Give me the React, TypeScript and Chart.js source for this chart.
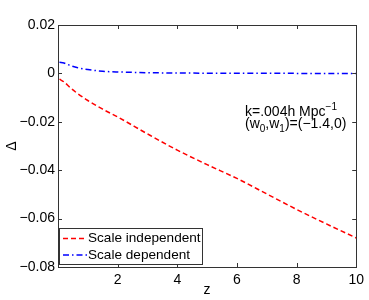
import React, { useEffect, useRef } from "react";
import { Chart, registerables } from "chart.js";

Chart.register(...registerables);

const zValues = [0.05, 0.2, 0.4, 0.6, 1.0, 1.5, 2, 3, 4, 5, 6, 7, 8, 9, 10];
const scaleIndependent = [-0.0024, -0.0035, -0.0058, -0.0078, -0.0112, -0.0148, -0.018, -0.025, -0.0317, -0.0377, -0.0434, -0.0498, -0.0562, -0.0622, -0.068];
const scaleDependent = [0.0046, 0.0043, 0.0033, 0.0025, 0.0016, 0.0009, 0.0006, 0.0003, 0.00015, 0.0001, 0.00005, 0.00003, 0.00001, 0, 0];
const xTicks = [2, 4, 6, 8, 10];
const yTicks = [0.02, 0, -0.02, -0.04, -0.06, -0.08];
const seriesLabels = ["Scale independent", "Scale dependent"];

const FONT = "'Liberation Sans', Arial, Helvetica, sans-serif";

const fmtY = (v: number) => {
  if (Math.abs(v) < 1e-9) return "0";
  const s = Math.abs(v).toFixed(2);
  return (v < 0 ? "\u2212" : "") + s;
};

const decorPlugin = {
  id: "decor",
  afterDatasetsDraw(chart: any) {
    const { ctx, chartArea: a, scales } = chart;
    const xs = scales.x;
    const ys = scales.y;
    ctx.save();
    // box
    ctx.strokeStyle = "#333";
    ctx.lineWidth = 1;
    ctx.strokeRect(Math.round(a.left) + 0.5, Math.round(a.top) + 0.5, Math.round(a.right - a.left), Math.round(a.bottom - a.top));
    // ticks inside
    const tl = 4;
    ctx.beginPath();
    xTicks.forEach((t) => {
      const px = Math.round(xs.getPixelForValue(t)) + 0.5;
      ctx.moveTo(px, a.bottom);
      ctx.lineTo(px, a.bottom - tl);
      ctx.moveTo(px, a.top);
      ctx.lineTo(px, a.top + tl);
    });
    yTicks.forEach((t) => {
      const py = Math.round(ys.getPixelForValue(t)) + 0.5;
      ctx.moveTo(a.left, py);
      ctx.lineTo(a.left + tl, py);
      ctx.moveTo(a.right, py);
      ctx.lineTo(a.right - tl, py);
    });
    ctx.stroke();

    // axis titles
    ctx.fillStyle = "#000";
    ctx.font = `14px ${FONT}`;
    ctx.textAlign = "center";
    ctx.textBaseline = "middle";
    ctx.fillText("z", (a.left + a.right) / 2, 290);
    ctx.save();
    ctx.translate(12, (a.top + a.bottom) / 2);
    ctx.rotate(-Math.PI / 2);
    ctx.fillText("\u0394", 0, 0);
    ctx.restore();

    // annotation
    ctx.textAlign = "left";
    ctx.textBaseline = "alphabetic";
    const drawRuns = (x: number, y: number, runs: [string, number][]) => {
      let cx = x;
      runs.forEach(([txt, shift]) => {
        ctx.font = shift === 0 ? `14px ${FONT}` : `10px ${FONT}`;
        ctx.fillText(txt, cx, y + shift);
        cx += ctx.measureText(txt).width;
      });
    };
    drawRuns(245, 116, [["k=.004h Mpc", 0], ["\u22121", -6]]);
    drawRuns(245, 128, [["(w", 0], ["0", 4], [",w", 0], ["1", 4], [")=(\u22121.4,0)", 0]]);

    // legend
    const lx = 59.5, ly = 228.5, lw = 143, lh = 36;
    ctx.fillStyle = "#fff";
    ctx.fillRect(lx, ly, lw, lh);
    ctx.strokeStyle = "#333";
    ctx.lineWidth = 1;
    ctx.strokeRect(lx, ly, lw, lh);
    const rows = [
      { y: 238.5, color: "#ff0000", dash: [5, 3] },
      { y: 255, color: "#0000ff", dash: [6, 3, 1.5, 3] },
    ];
    rows.forEach((r, i) => {
      ctx.strokeStyle = r.color;
      ctx.lineWidth = 1.5;
      ctx.setLineDash(r.dash);
      ctx.beginPath();
      ctx.moveTo(63, r.y);
      ctx.lineTo(87, r.y);
      ctx.stroke();
      ctx.setLineDash([]);
      ctx.fillStyle = "#000";
      ctx.font = `13.6px ${FONT}`;
      ctx.textBaseline = "middle";
      ctx.fillText(seriesLabels[i], 88, r.y);
    });
    ctx.restore();
  },
};

export default function App() {
  const ref = useRef<HTMLCanvasElement | null>(null);
  useEffect(() => {
    if (!ref.current) return;
    const chart = new Chart(ref.current, {
      type: "line",
      data: {
        datasets: [
          {
            label: seriesLabels[0],
            data: zValues.map((z, i) => ({ x: z, y: scaleIndependent[i] })),
            borderColor: "#ff0000",
            borderWidth: 1.5,
            borderDash: [5, 3],
            pointRadius: 0,
            cubicInterpolationMode: "monotone",
            fill: false,
          },
          {
            label: seriesLabels[1],
            data: zValues.map((z, i) => ({ x: z, y: scaleDependent[i] })),
            borderColor: "#0000ff",
            borderWidth: 1.5,
            borderDash: [6, 3, 1.5, 3],
            pointRadius: 0,
            cubicInterpolationMode: "monotone",
            fill: false,
          },
        ],
      },
      options: {
        responsive: false,
        animation: false,
        layout: { padding: { top: 25, right: 11, left: 0, bottom: 0 } },
        plugins: { legend: { display: false }, tooltip: { enabled: false } },
        scales: {
          x: {
            type: "linear",
            min: 0,
            max: 10,
            grid: { display: false, drawTicks: false },
            border: { display: false },
            afterBuildTicks: (s: any) => {
              s.ticks = xTicks.map((v) => ({ value: v }));
            },
            afterFit: (s: any) => {
              s.height = 33;
            },
            ticks: {
              color: "#000",
              padding: 5,
              maxRotation: 0,
              font: { family: FONT, size: 14 },
              callback: (v: any) => String(v),
            },
          },
          y: {
            type: "linear",
            min: -0.08,
            max: 0.02,
            grid: { display: false, drawTicks: false },
            border: { display: false },
            afterBuildTicks: (s: any) => {
              s.ticks = yTicks.map((v) => ({ value: v }));
            },
            afterFit: (s: any) => {
              s.width = 58;
            },
            ticks: {
              color: "#000",
              padding: 3,
              font: { family: FONT, size: 14 },
              callback: (v: any) => fmtY(Number(v)),
            },
          },
        },
      },
      plugins: [decorPlugin],
    });
    return () => chart.destroy();
  }, []);
  return (
    <div style={{ position: "fixed", left: 0, top: 0, width: 369, height: 300, background: "#fff" }}>
      <canvas ref={ref} width={369} height={300} />
    </div>
  );
}
